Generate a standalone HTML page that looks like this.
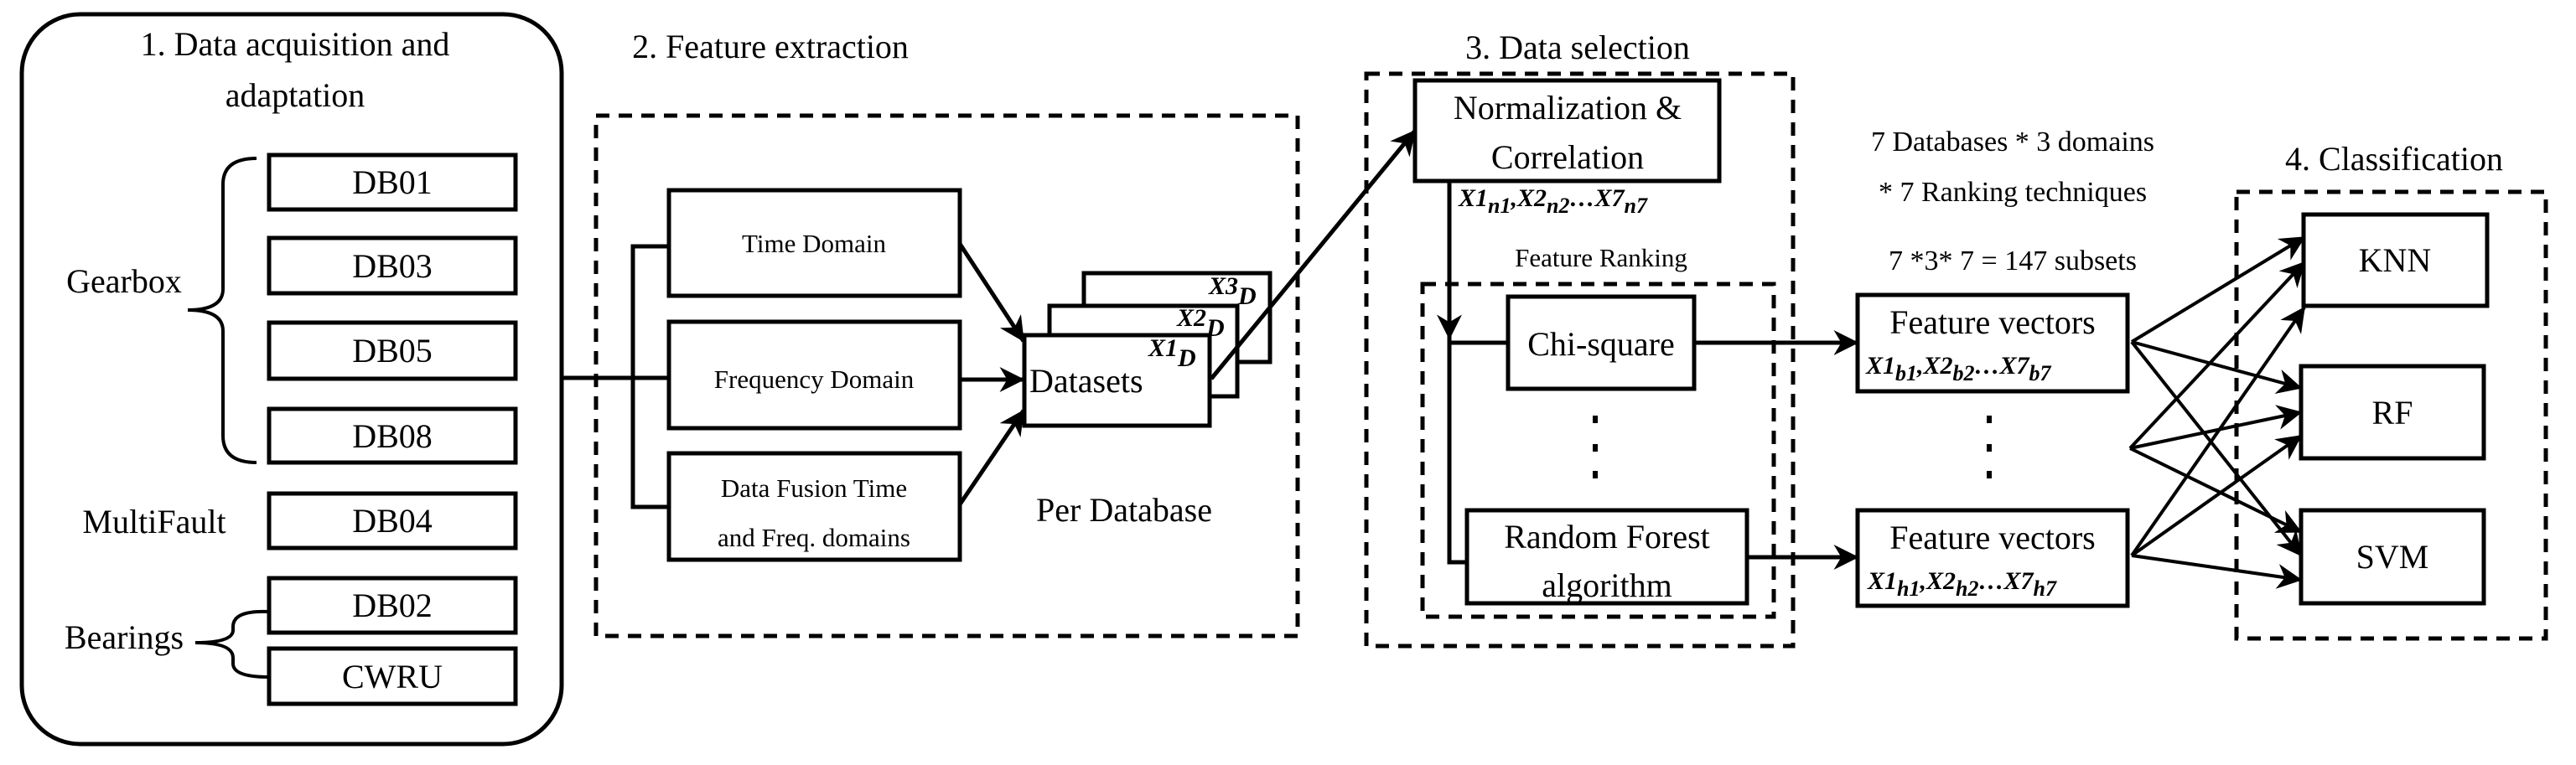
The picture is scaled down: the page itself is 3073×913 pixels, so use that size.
<!DOCTYPE html>
<html><head><meta charset="utf-8"><style>
html,body{margin:0;padding:0;background:#fff}
svg{display:block}
svg text{font-family:"Liberation Serif","Times New Roman",Times,"Noto Serif CJK SC","DejaVu Serif",serif !important;fill:#000}
</style></head><body>
<svg width="3073" height="913" viewBox="0 0 3073 913" xmlns="http://www.w3.org/2000/svg">
<defs>
<marker id="a" viewBox="0 0 10 10" refX="9.5" refY="5" markerWidth="34" markerHeight="30" orient="auto" markerUnits="userSpaceOnUse">
<path d="M0,0 L10,5 L0,10 L3,5 z" fill="#000"/>
</marker>
</defs>
<g fill="none" stroke="#000" stroke-width="5">
<rect x="26" y="17" width="644" height="871" rx="70" ry="70"/>
<rect x="321" y="185" width="294" height="65"/>
<rect x="321" y="284" width="294" height="66"/>
<rect x="321" y="385" width="294" height="67"/>
<rect x="321" y="488" width="294" height="64"/>
<rect x="321" y="589" width="294" height="65"/>
<rect x="321" y="690" width="294" height="65"/>
<rect x="321" y="774" width="294" height="66"/>
<path d="M306,189 Q266,189 266,220 L266,345 Q266,370 224,370 Q266,370 266,395 L266,520 Q266,552 306,552" stroke-width="4"/>
<path d="M321,730 Q278,728 278,748 L278,752 Q278,767 233,767 Q278,767 278,785 L278,792 Q278,808 321,808" stroke-width="4"/>
<path d="M670,451 L798,451 M798,294 L755,294 L755,605 L798,605"/>
<rect x="711" y="138" width="837" height="621" stroke-dasharray="16,11"/>
<rect x="798" y="227" width="347" height="126"/>
<rect x="798" y="384" width="347" height="127"/>
<rect x="798" y="541" width="347" height="127"/>
<rect x="1293" y="326" width="222" height="106" fill="#fff"/>
<rect x="1252" y="365" width="224" height="108" fill="#fff"/>
<rect x="1222" y="400" width="221" height="108" fill="#fff"/>
<line x1="1145" y1="291" x2="1221" y2="407" marker-end="url(#a)"/>
<line x1="1145" y1="453" x2="1221" y2="453" marker-end="url(#a)"/>
<line x1="1145" y1="602" x2="1221" y2="490" marker-end="url(#a)"/>
<line x1="1445" y1="452" x2="1688" y2="156" marker-end="url(#a)"/>
<rect x="1630" y="88" width="509" height="683" stroke-dasharray="16,11"/>
<rect x="1697" y="339" width="419" height="397" stroke-dasharray="16,11"/>
<rect x="1688" y="96" width="363" height="120" fill="#fff"/>
<rect x="1799" y="354" width="222" height="110"/>
<rect x="1750" y="609" width="334" height="111"/>
<line x1="1729" y1="216" x2="1729" y2="404" marker-end="url(#a)"/>
<path d="M1729,400 L1729,671 L1750,671 M1729,409 L1799,409"/>
<line x1="2021" y1="409" x2="2216" y2="409" marker-end="url(#a)"/>
<line x1="2084" y1="665" x2="2216" y2="665" marker-end="url(#a)"/>
<rect x="2216" y="352" width="322" height="115"/>
<rect x="2216" y="609" width="322" height="114"/>
<rect x="2668" y="229" width="369" height="533" stroke-dasharray="16,11"/>
<rect x="2748" y="256" width="219" height="109"/>
<rect x="2745" y="437" width="218" height="110"/>
<rect x="2745" y="609" width="218" height="111"/>
<g stroke-width="4">
<line x1="2543" y1="408" x2="2749" y2="283" marker-end="url(#a)"/>
<line x1="2543" y1="408" x2="2745" y2="463" marker-end="url(#a)"/>
<line x1="2543" y1="408" x2="2745" y2="663" marker-end="url(#a)"/>
<line x1="2541" y1="535" x2="2749" y2="313" marker-end="url(#a)"/>
<line x1="2541" y1="535" x2="2745" y2="492" marker-end="url(#a)"/>
<line x1="2541" y1="535" x2="2745" y2="635" marker-end="url(#a)"/>
<line x1="2543" y1="663" x2="2749" y2="367" marker-end="url(#a)"/>
<line x1="2543" y1="663" x2="2745" y2="520" marker-end="url(#a)"/>
<line x1="2543" y1="663" x2="2745" y2="692" marker-end="url(#a)"/>
</g>
</g>
<g fill="#000">
<rect x="1900" y="496" width="6" height="9"/><rect x="1900" y="530" width="6" height="9"/><rect x="1900" y="562" width="6" height="9"/>
<rect x="2370" y="496" width="6" height="9"/><rect x="2370" y="530" width="6" height="9"/><rect x="2370" y="562" width="6" height="9"/>
</g>
<g text-anchor="middle" font-size="40">
<text x="352" y="66">1. Data acquisition and</text>
<text x="352" y="127">adaptation</text>
<text x="468" y="231">DB01</text>
<text x="468" y="331">DB03</text>
<text x="468" y="432">DB05</text>
<text x="468" y="534">DB08</text>
<text x="468" y="635">DB04</text>
<text x="468" y="736">DB02</text>
<text x="468" y="821">CWRU</text>
<text x="148" y="349">Gearbox</text>
<text x="184" y="636">MultiFault</text>
<text x="148" y="774">Bearings</text>
<text x="919" y="69">2. Feature extraction</text>
<text x="1341" y="622">Per Database</text>
<text x="1882" y="70">3. Data selection</text>
<text x="1870" y="142">Normalization &amp;</text>
<text x="1870" y="201">Correlation</text>
<text x="1910" y="424">Chi-square</text>
<text x="1917" y="654">Random Forest</text>
<text x="1917" y="712">algorithm</text>
<text x="2377" y="398">Feature vectors</text>
<text x="2377" y="655">Feature vectors</text>
<text x="2856" y="203">4. Classification</text>
<text x="2857" y="324">KNN</text>
<text x="2854" y="506">RF</text>
<text x="2854" y="678">SVM</text>
</g>
<g text-anchor="middle" font-size="31">
<text x="971" y="301">Time Domain</text>
<text x="971" y="463">Frequency Domain</text>
<text x="971" y="593">Data Fusion Time</text>
<text x="971" y="652">and Freq. domains</text>
<text x="1910" y="318">Feature Ranking</text>
</g>
<g text-anchor="middle" font-size="34">
<text x="2401" y="180">7 Databases * 3 domains</text>
<text x="2401" y="240">* 7 Ranking techniques</text>
<text x="2401" y="322">7 *3* 7  = 147 subsets</text>
</g>
<text x="1228" y="468" font-size="40">Datasets</text>
<g font-style="italic" font-weight="bold" font-size="30">
<text x="1370" y="425">X1<tspan dy="12">D</tspan></text>
<text x="1404" y="389">X2<tspan dy="12">D</tspan></text>
<text x="1442" y="351">X3<tspan dy="12">D</tspan></text>
<text x="1740" y="246">X1<tspan font-size="26" dy="8">n1</tspan><tspan dy="-8">,X2</tspan><tspan font-size="26" dy="8">n2</tspan><tspan dy="-8">…X7</tspan><tspan font-size="26" dy="8">n7</tspan></text>
<text x="2226" y="446">X1<tspan font-size="26" dy="8">b1</tspan><tspan dy="-8">,X2</tspan><tspan font-size="26" dy="8">b2</tspan><tspan dy="-8">…X7</tspan><tspan font-size="26" dy="8">b7</tspan></text>
<text x="2228" y="703">X1<tspan font-size="26" dy="8">h1</tspan><tspan dy="-8">,X2</tspan><tspan font-size="26" dy="8">h2</tspan><tspan dy="-8">…X7</tspan><tspan font-size="26" dy="8">h7</tspan></text>
</g>
</svg>
</body></html>
